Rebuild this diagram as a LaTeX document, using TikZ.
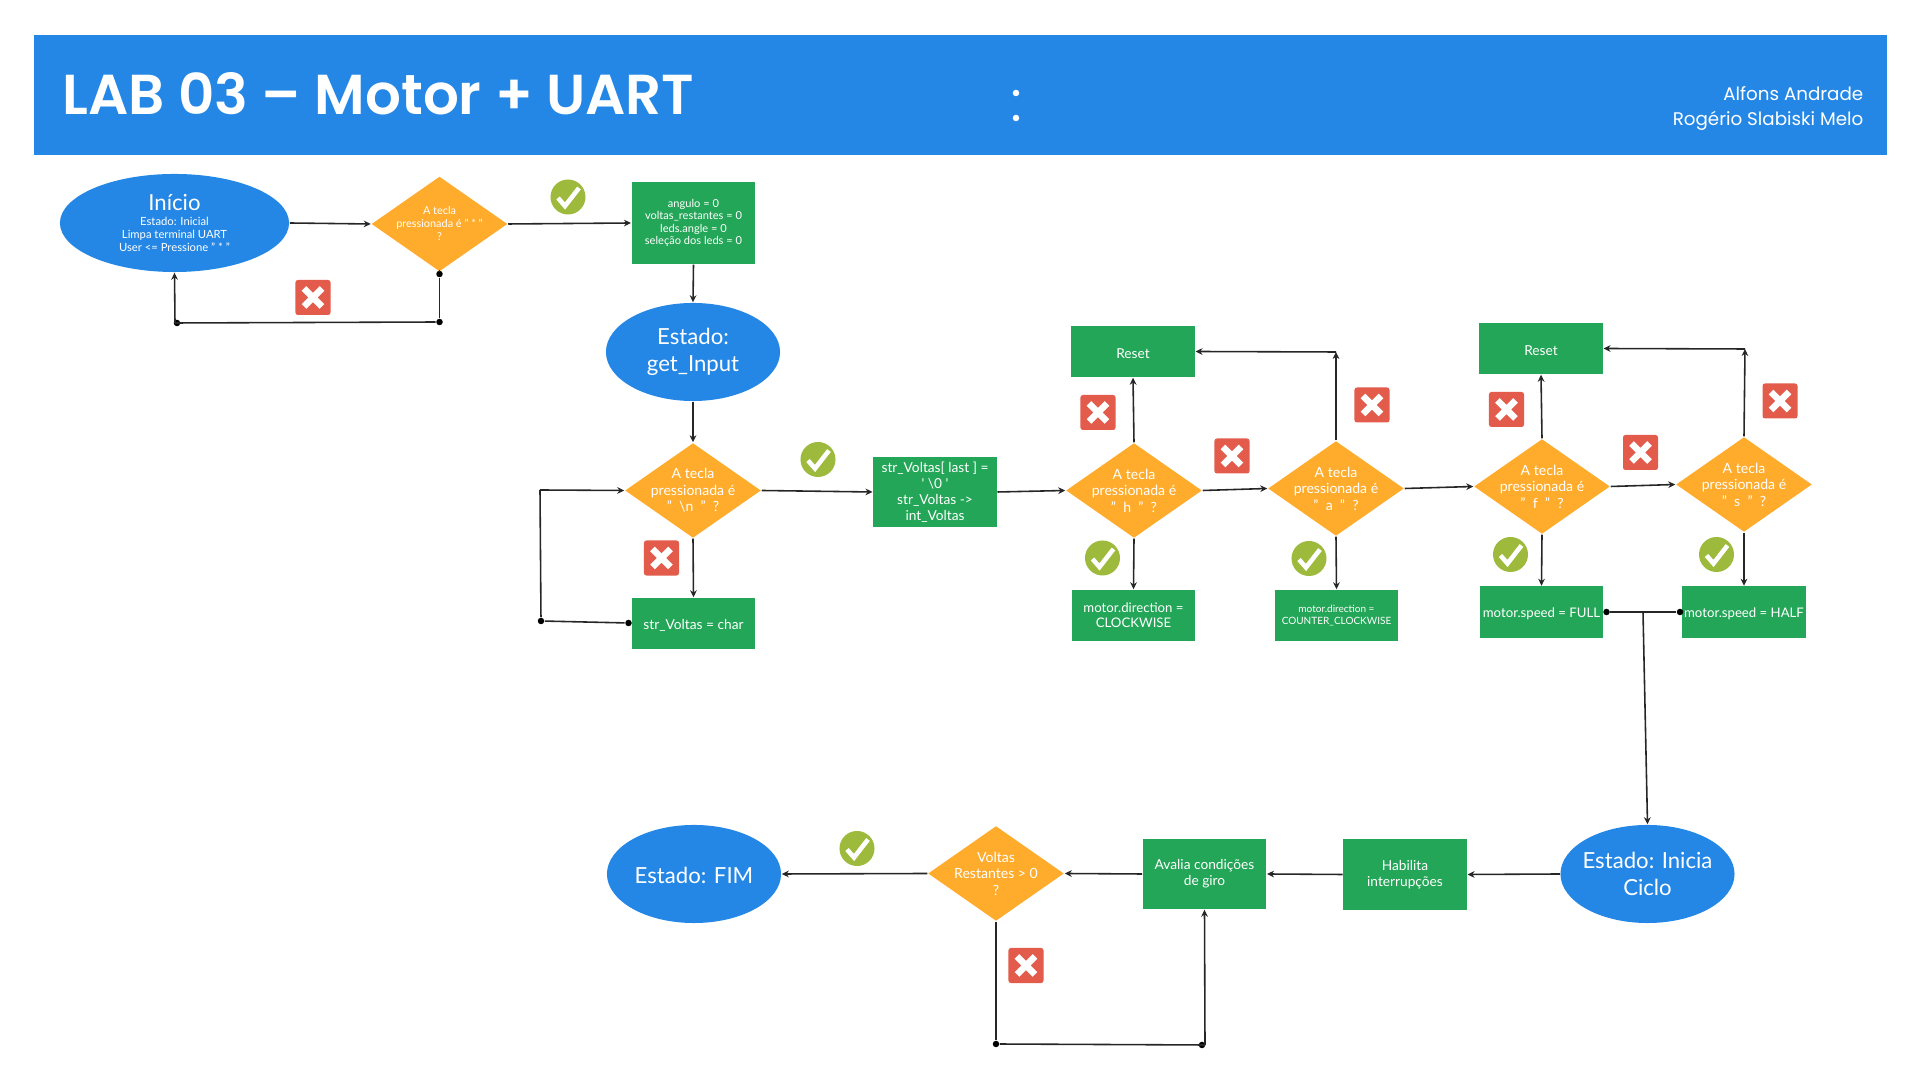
\documentclass[tikz,border=0pt]{standalone}
\usepackage{fontspec}
\usepackage{xcolor}
\usetikzlibrary{shapes.geometric, arrows.meta}
\setmainfont{Lato}
\newfontfamily\headfont{Poppins}
\newfontfamily\titlefont{Poppins SemiBold}
\definecolor{banner}{RGB}{36,135,230}
\definecolor{decision}{RGB}{255,171,43}
\definecolor{action}{RGB}{35,166,87}
\definecolor{nomark}{RGB}{226,91,75}
\definecolor{yesmark}{RGB}{157,186,60}
\newcommand{\substate}{\fontsize{3.2}{3.7}\selectfont}

\tikzset{
  state/.style={ellipse, fill=banner, text=white, inner sep=-4pt, align=center,
    minimum width=1.74cm, minimum height=0.98cm,
    execute at begin node={\rule{0pt}{5.6pt}},
    font=\fontsize{6.3}{7.6}\selectfont},
  ask/.style={diamond, aspect=1.43, fill=decision, text=white, inner sep=-3pt, align=center,
    minimum width=1.36cm, minimum height=0.95cm,
    font=\fontsize{4}{4.7}\selectfont},
  task/.style={rectangle, fill=action, text=white, inner sep=0pt, align=center,
    minimum width=1.235cm, minimum height=0.51cm,
    execute at begin node={\rule{0pt}{3.8pt}},
    font=\fontsize{3.9}{4.5}\selectfont},
  flow/.style={draw=black!85, line width=0.45pt, -{Stealth[length=2pt, width=1.9pt]}},
  link/.style={draw=black!85, line width=0.45pt},
  joint/.style={circle, fill=black, inner sep=0pt, minimum size=0.065cm},
  yesicon/.style={ellipse, fill=yesmark, inner sep=0pt, minimum width=0.35cm, minimum height=0.35cm,
    path picture={
      \draw[white, line width=1.3pt, shift={(path picture bounding box.center)}]
        (-10,1) -- (-3,9) -- (11,-9);
    }},
  noicon/.style={rectangle, rounded corners=0.7pt, fill=nomark, inner sep=0pt, minimum size=0.35cm,
    path picture={
      \draw[white, line width=1.9pt, shift={(path picture bounding box.center)}]
        (-9,-9) -- (9,9) (-9,9) -- (9,-9);
    }}
}

\begin{document}
\begin{tikzpicture}[x=0.01cm, y=-0.01cm]
  \useasboundingbox (0,0) rectangle (1920,1080);

  % Header band
  \node[rectangle, fill=banner, inner sep=0pt, minimum width=18.52cm, minimum height=1.2cm] (band) at (960.5,95) {};
  \node[anchor=base west, inner sep=0pt, text=white, font=\titlefont\fontsize{16}{18}\selectfont] (title) at (62,115) {LAB 03 – Motor + UART};
  \node[circle, fill=white, inner sep=0pt, minimum size=0.065cm] (bulletA) at (1016,93) {};
  \node[circle, fill=white, inner sep=0pt, minimum size=0.065cm] (bulletB) at (1016,118) {};
  \node[anchor=base east, inner sep=0pt, text=white, font=\headfont\fontsize{5.2}{7}\selectfont] (authorA) at (1864,101) {Alfons Andrade};
  \node[anchor=base east, inner sep=0pt, text=white, font=\headfont\fontsize{5.2}{7}\selectfont] (authorB) at (1864,126) {Rogério Slabiski Melo};

  % First row
  \node[state, minimum width=2.29cm, inner sep=-8pt] (inicio) at (174.5,223) {Início\\[-3.6pt]\substate Estado: Inicial\\[-3.9pt]\substate Limpa terminal UART\\[-3.9pt]\substate User <= Pressione " * "};
  \node[ask, font=\fontsize{3.1}{3.7}\selectfont] (askStar) at (439.5,224) {A tecla\\pressionada é " * "\\?};
  \node[task, minimum height=0.82cm, execute at begin node={\rule{0pt}{3.2pt}}, font=\fontsize{3.15}{3.55}\selectfont] (setup) at (693.5,223) {angulo = 0\\voltas\_restantes = 0\\leds.angle = 0\\seleção dos leds = 0};
  \node[state] (getInput) at (693,352) {Estado:\\get\_Input};

  % Second row
  \node[ask] (askEnter) at (693,490.5) {A tecla\\pressionada é\\"\ \ \textbackslash n\ \ "\ \ ?};
  \node[task] (readChar) at (693.5,623.5) {str\_Voltas = char};
  \node[task, minimum height=0.7cm] (toInt) at (935,492) {str\_Voltas[ last ] =\\\textquotesingle\ \textbackslash 0 \textquotesingle\\str\_Voltas ->\\int\_Voltas};
  \node[ask] (askH) at (1134,490.5) {A tecla\\pressionada é\\"\ \ h\ \ "\ \ ?};
  \node[ask] (askA) at (1336,488.5) {A tecla\\pressionada é\\"\ \ a\ \ "\ \ ?};
  \node[ask] (askF) at (1542,486.5) {A tecla\\pressionada é\\"\ \ f\ \ "\ \ ?};
  \node[ask] (askS) at (1744,484.5) {A tecla\\pressionada é\\"\ \ s\ \ "\ \ ?};

  % Outcomes of the keys
  \node[task] (resetH) at (1133,351.5) {Reset};
  \node[task] (resetF) at (1541,348.5) {Reset};
  \node[task, font=\fontsize{3.75}{4.2}\selectfont] (dirCw) at (1133.5,615.5) {motor.direction =\\CLOCKWISE};
  \node[task, execute at begin node={\rule{0pt}{2.8pt}}, font=\fontsize{2.85}{3.3}\selectfont] (dirCcw) at (1336.5,615.5) {motor.direction =\\COUNTER\_CLOCKWISE};
  \node[task, font=\fontsize{3.75}{4.5}\selectfont] (speedFull) at (1541.5,612) {motor.speed = FULL};
  \node[task, font=\fontsize{3.75}{4.5}\selectfont] (speedHalf) at (1744,612) {motor.speed = HALF};

  % Bottom row
  \node[state] (inicia) at (1647.5,874) {Estado: Inicia\\Ciclo};
  \node[task, minimum height=0.71cm] (habilita) at (1405,874.5) {Habilita\\interrupções};
  \node[task, minimum height=0.7cm] (avalia) at (1204.5,874) {Avalia condições\\de giro};
  \node[ask] (askTurns) at (996,873.5) {Voltas\\Restantes > 0\\?};
  \node[state] (fim) at (694,874) {Estado: FIM};

  % Joints and bends
  \node[joint] (starA) at (439.5,274) {};
  \node[joint] (starB) at (439.5,322) {};
  \node[joint] (starC) at (177,323) {};
  \coordinate (starD) at (175,323);
  \coordinate (enterTop) at (540,490);
  \node[joint] (enterLow) at (541,621) {};
  \node[joint] (charDot) at (628.5,623) {};
  \coordinate (bendA) at (1336,352);
  \coordinate (bendS) at (1745,349);
  \node[joint] (fullDot) at (1606.5,612) {};
  \node[joint] (halfDot) at (1680,612) {};
  \coordinate (merge) at (1643,612);
  \node[joint] (turnsA) at (996,1044) {};
  \node[joint] (turnsB) at (1202,1045) {};
  \coordinate (turnsC) at (1205,1045);

  % Connectors
  \draw[flow] (inicio.east) -- (askStar.west);
  \draw[flow] (askStar.east) -- (setup.west);
  \draw[link] (askStar.south) -- (starA);
  \draw[link] (starA) -- (starB);
  \draw[link] (starB) -- (starD);
  \draw[flow] (starD) -- (inicio.south);
  \draw[flow] (setup.south) -- (getInput.north);
  \draw[flow] (getInput.south) -- (askEnter.north);
  \draw[flow] (askEnter.south) -- (readChar.north);
  \draw[link] (charDot) -- (enterLow);
  \draw[link] (enterLow) -- (enterTop);
  \draw[flow] (enterTop) -- (askEnter.west);
  \draw[flow] (askEnter.east) -- (toInt.west);
  \draw[flow] (toInt.east) -- (askH.west);
  \draw[flow] (askH.east) -- (askA.west);
  \draw[flow] (askA.east) -- (askF.west);
  \draw[flow] (askF.east) -- (askS.west);
  \draw[flow] (askH.north) -- (resetH.south);
  \draw[flow] (askH.south) -- (dirCw.north);
  \draw[flow] (askA.north) -- (bendA);
  \draw[flow] (bendA) -- (resetH.east);
  \draw[flow] (askA.south) -- (dirCcw.north);
  \draw[flow] (askF.north) -- (resetF.south);
  \draw[flow] (askF.south) -- (speedFull.north);
  \draw[flow] (askS.north) -- (bendS);
  \draw[flow] (bendS) -- (resetF.east);
  \draw[flow] (askS.south) -- (speedHalf.north);
  \draw[link] (fullDot) -- (halfDot);
  \draw[flow] (merge) -- (inicia.north);
  \draw[flow] (inicia.west) -- (habilita.east);
  \draw[flow] (habilita.west) -- (avalia.east);
  \draw[flow] (avalia.west) -- (askTurns.east);
  \draw[flow] (askTurns.west) -- (fim.east);
  \draw[link] (askTurns.south) -- (turnsA);
  \draw[link] (turnsA) -- (turnsC);
  \draw[flow] (turnsC) -- (avalia.south);

  % Yes and no marks
  \foreach \x/\y/\name in {568/197/yesStar, 818/459.5/yesEnter, 1102.5/558/yesH, 1309/558.5/yesA, 1510.5/554.5/yesF, 1716.5/554.5/yesS, 857/848.5/yesTurns} {
    \node[yesicon] (\name) at (\x,\y) {};
  }
  \foreach \x/\y/\name in {313/297.5/noStar, 661.5/558/noEnter, 1098/412.5/noH, 1232/456/noHA, 1372/405/noA, 1506.5/409.5/noF, 1640.5/452.5/noFS, 1780/401/noS, 1026/965.5/noTurns} {
    \node[noicon] (\name) at (\x,\y) {};
  }
\end{tikzpicture}
\end{document}
